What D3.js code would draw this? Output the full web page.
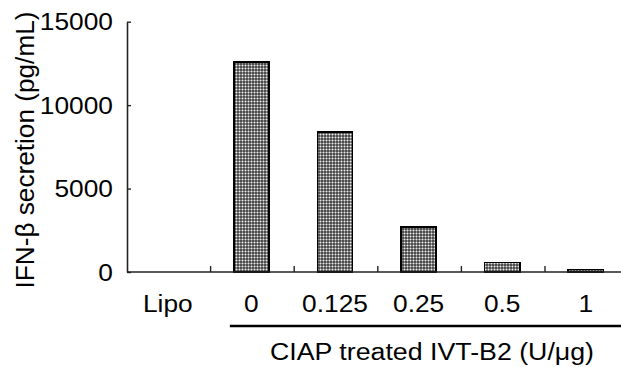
<!DOCTYPE html>
<html><head><meta charset="utf-8">
<script src="https://cdn.jsdelivr.net/npm/d3@7/dist/d3.min.js"></script>
<style>
html,body{margin:0;padding:0;background:#fff;}
svg{display:block;font-family:"Liberation Sans",Arial,sans-serif;}
</style></head>
<body>
<script>
const categories = ["Lipo", "0", "0.125", "0.25", "0.5", "1"];
const values = [0, 12600, 8390, 2710, 580, 140];
const yTicks = [0, 5000, 10000, 15000];
const yTitle = "IFN-\u03B2 secretion (pg/mL)";
const xTitle = "CIAP treated IVT-B2 (U/\u03BCg)";

const W = 621, H = 367;
const svg = d3.select("body").append("svg").attr("width", W).attr("height", H);
const SX = 1.12; // horizontal text stretch seen in reference

const defs = svg.append("defs");
const pat = defs.append("pattern").attr("id", "dots").attr("patternUnits", "userSpaceOnUse")
  .attr("width", 3).attr("height", 3);
pat.append("rect").attr("width", 3).attr("height", 3).attr("fill", "#8e8e8e");
pat.append("rect").attr("width", 2).attr("height", 2).attr("fill", "#4e4e4e");
pat.append("rect").attr("x", 2).attr("y", 2).attr("width", 1).attr("height", 1).attr("fill", "#eeeeee");

const axisX0 = 127;
const y = d3.scaleLinear().domain([0, 15000]).range([272, 21.7]);
const x = d3.scaleBand().domain(categories).range([axisX0, axisX0 + 6 * 83.6])
  .paddingInner(0.58).paddingOuter(0.29);
const step = x.step();

// bars
svg.append("g").selectAll("rect").data(categories).join("rect")
  .attr("x", d => x(d) - 1)
  .attr("y", (d, i) => y(values[i]))
  .attr("width", x.bandwidth())
  .attr("height", (d, i) => y(0) - y(values[i]))
  .attr("fill", "url(#dots)")
  .attr("stroke", "#000").attr("stroke-width", 1.6)
  .attr("shape-rendering", "crispEdges");

// y axis
const gy = svg.append("g").attr("transform", `translate(${axisX0},0)`)
  .call(d3.axisLeft(y).tickValues(yTicks).tickSizeInner(-4).tickSizeOuter(0).tickPadding(14).tickFormat(d3.format("d")));
gy.select(".domain").attr("stroke", "#222").attr("stroke-width", 1.6);
gy.selectAll(".tick line").attr("stroke", "#222").attr("stroke-width", 1.4);
gy.selectAll(".tick text").attr("font-size", 23.5).attr("fill", "#000")
  .attr("font-family", "Liberation Sans, Arial, sans-serif")
  .attr("dy", "0.35em")
  .each(function () {
    const t = d3.select(this);
    const xx = +t.attr("x");
    t.attr("x", xx / SX).attr("transform", `scale(${SX},1)`);
  });

// x axis line
svg.append("line").attr("x1", axisX0).attr("x2", x.range()[1])
  .attr("y1", y(0)).attr("y2", y(0)).attr("stroke", "#222").attr("stroke-width", 1.6);

// x boundary ticks (upward)
svg.append("g").selectAll("line").data(categories.slice(1)).join("line")
  .attr("x1", d => x(d) - step * x.paddingInner() / 2)
  .attr("x2", d => x(d) - step * x.paddingInner() / 2)
  .attr("y1", y(0)).attr("y2", y(0) - 6)
  .attr("stroke", "#222").attr("stroke-width", 1.4);

// x labels
svg.append("g").selectAll("text").data(categories).join("text")
  .attr("transform", d => `translate(${x(d) + x.bandwidth() / 2 - 1},${y(0) + 40}) scale(${SX},1)`)
  .attr("text-anchor", "middle").attr("font-size", 23.5).attr("fill", "#000")
  .text(d => d);

// bracket line under treated categories
svg.append("line").attr("x1", x("0") - 5).attr("x2", W)
  .attr("y1", 326).attr("y2", 326).attr("stroke", "#000").attr("stroke-width", 2.6);

// x title
svg.append("text").attr("x", 270).attr("y", 360)
  .attr("font-size", 23.5).attr("fill", "#000")
  .attr("textLength", 324).attr("lengthAdjust", "spacingAndGlyphs")
  .text(xTitle);

// y title
svg.append("text").attr("transform", "translate(34,150) rotate(-90)")
  .attr("text-anchor", "middle").attr("font-size", 25.5).attr("fill", "#000")
  .attr("textLength", 277).attr("lengthAdjust", "spacingAndGlyphs")
  .text(yTitle);
</script>
</body></html>
